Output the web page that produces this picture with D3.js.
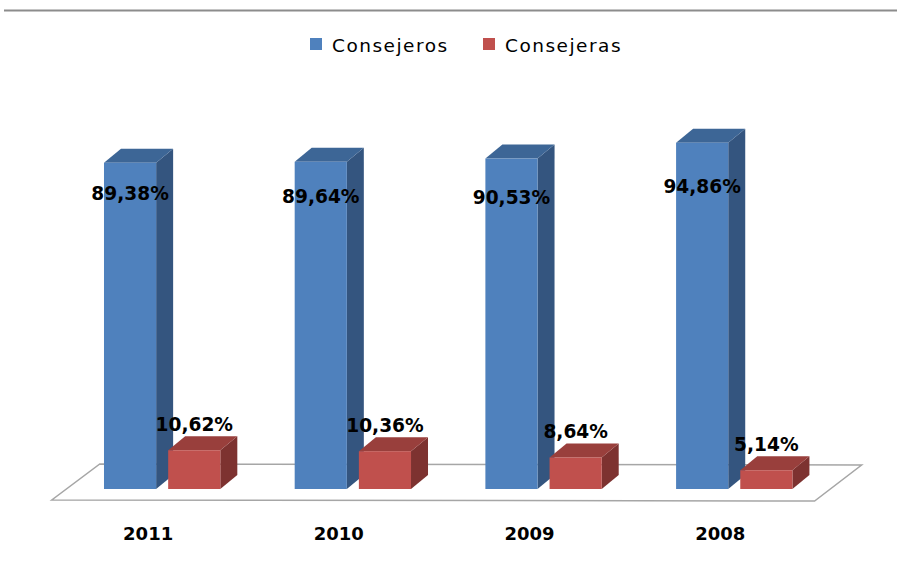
<!DOCTYPE html>
<html>
<head>
<meta charset="utf-8">
<script src="https://cdn.jsdelivr.net/npm/d3@7"></script>
<style>
  body { margin: 0; background: #fff; }
  text { font-family: "DejaVu Sans", Verdana, sans-serif; }
</style>
</head>
<body>
<div id="chart"></div>
<script>
// data
var years = ["2011", "2010", "2009", "2008"];
var seriesNames = ["Consejeros", "Consejeras"];
var consejeros = [89.38, 89.64, 90.53, 94.86];
var consejeras = [10.62, 10.36, 8.64, 5.14];

var svgWidth = 897;
var svgHeight = 561;
var baseY = 489;      // bottom of the bars (front)
var depth = {dx: 17, dy: -14};

// front / top / side colours for each series
var colors = {
  Consejeros: {front: "#4f81bd", top: "#3d6696", side: "#34557f"},
  Consejeras: {front: "#c0504d", top: "#993f3c", side: "#7d3230"}
};

var svg = d3.select("#chart")
  .append("svg")
  .attr("width", svgWidth)
  .attr("height", svgHeight);

// thin rule at the top
svg.append("line")
  .attr("x1", 4).attr("x2", svgWidth)
  .attr("y1", 10.5).attr("y2", 10.5)
  .attr("stroke", "#8c8c8c")
  .attr("stroke-width", 2);

// scales
var x0 = d3.scaleBand()
  .domain(years)
  .range([66.8, 829.6])
  .paddingInner(0.39)
  .paddingOuter(0.195);

var x1 = d3.scaleBand()
  .domain(seriesNames)
  .range([0, x0.bandwidth()])
  .paddingInner(0.1875);

var y = d3.scaleLinear()
  .domain([0, 100])
  .range([baseY, baseY - 365]);

// floor
var fl = x0.range()[0] - 15;
var fr = x0.range()[1] - 15;
var floorPts = [[fl, 500], [fr, 501], [fr + 47, 465], [fl + 48, 464]];
svg.append("polygon")
  .attr("points", floorPts.map(p => p.join(",")).join(" "))
  .attr("fill", "#fff")
  .attr("stroke", "#a6a6a6")
  .attr("stroke-width", 1.5);

// build bar records
var bars = [];
years.forEach(function(yr, i) {
  bars.push({year: yr, i: i, series: "Consejeros", value: consejeros[i]});
  bars.push({year: yr, i: i, series: "Consejeras", value: consejeras[i]});
});
bars.forEach(function(d) {
  d.x = x0(d.year) + x1(d.series);
  d.w = x1.bandwidth();
  d.top = y(d.value);
});

function pts(arr) {
  return arr.map(p => p[0] + "," + p[1]).join(" ");
}

var barG = svg.selectAll("g.bar")
  .data(bars)
  .enter()
  .append("g")
  .attr("class", "bar");

// side face
barG.append("polygon")
  .attr("points", d => pts([
    [d.x + d.w, baseY], [d.x + d.w + depth.dx, baseY + depth.dy],
    [d.x + d.w + depth.dx, d.top + depth.dy], [d.x + d.w, d.top]
  ]))
  .attr("fill", d => colors[d.series].side);

// top face
barG.append("polygon")
  .attr("points", d => pts([
    [d.x, d.top], [d.x + depth.dx, d.top + depth.dy],
    [d.x + d.w + depth.dx, d.top + depth.dy], [d.x + d.w, d.top]
  ]))
  .attr("fill", d => colors[d.series].top);

// front face
barG.append("rect")
  .attr("x", d => d.x)
  .attr("y", d => d.top)
  .attr("width", d => d.w)
  .attr("height", d => baseY - d.top)
  .attr("fill", d => colors[d.series].front);

// value labels
svg.selectAll("text.value")
  .data(bars)
  .enter()
  .append("text")
  .attr("class", "value")
  .attr("x", d => d.x + d.w / 2)
  .attr("y", function(d) {
    if (d.series === "Consejeros") return d.top + 37 + 4.3 * d.i;
    return d.top - 19.5;
  })
  .attr("text-anchor", "middle")
  .attr("font-size", "18.6px")
  .attr("font-weight", "bold")
  .attr("fill", "#000")
  .text(d => d3.format(".2f")(d.value).replace(".", ",") + "%");

// category labels
svg.selectAll("text.year")
  .data(years)
  .enter()
  .append("text")
  .attr("class", "year")
  .attr("x", d => x0(d) + x0.bandwidth() / 2 - 14)
  .attr("y", 540)
  .attr("text-anchor", "middle")
  .attr("font-size", "18px")
  .attr("font-weight", "bold")
  .attr("fill", "#000")
  .text(d => d);

// legend
var legendX = [310, 483];
var legend = svg.selectAll("g.legend")
  .data(seriesNames)
  .enter()
  .append("g")
  .attr("class", "legend")
  .attr("transform", (d, i) => `translate(${legendX[i]}, 38)`);
legend.append("rect")
  .attr("width", 12)
  .attr("height", 12)
  .attr("fill", d => colors[d].front);
legend.append("text")
  .attr("x", 22)
  .attr("y", 14)
  .attr("font-size", "18.5px")
  .attr("letter-spacing", "1.5px")
  .attr("fill", "#000")
  .text(d => d);
</script>
</body>
</html>
